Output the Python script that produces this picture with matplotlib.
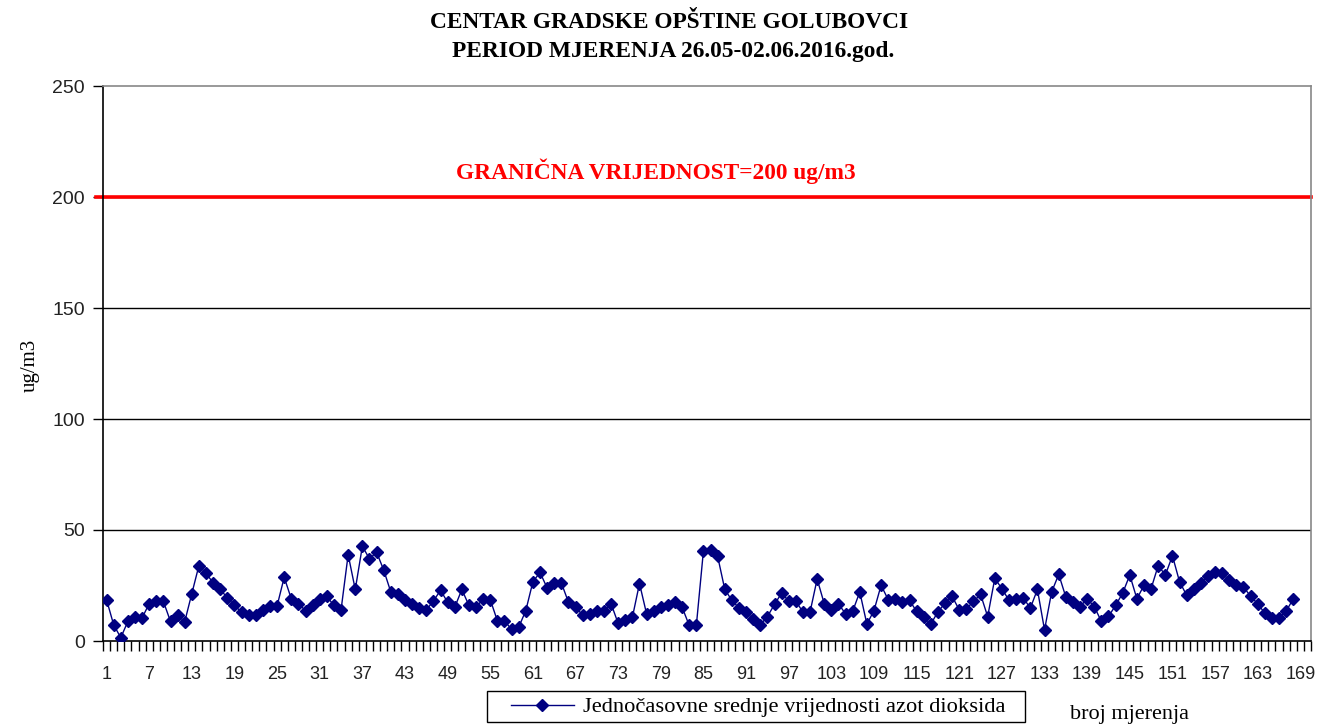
import matplotlib
matplotlib.use("Agg")
import matplotlib.pyplot as plt
from matplotlib.patches import Rectangle
import numpy as np

values = [
    18.6, 7.3, 1.5, 8.8, 11.0, 10.4, 16.8, 18.0, 17.8, 8.8,
    11.7, 8.7, 21.3, 34.0, 30.5, 26.2, 23.2, 19.5, 16.0, 13.0,
    11.7, 11.7, 14.0, 15.8, 15.8, 28.7, 19.0, 16.8, 13.7, 16.0,
    18.7, 20.1, 16.0, 14.0, 38.9, 23.2, 42.7, 37.0, 40.0, 32.0,
    22.1, 21.0, 18.3, 16.8, 14.9, 14.0, 18.0, 22.9, 17.4, 15.2,
    23.2, 16.0, 15.2, 19.0, 18.6, 9.1, 9.1, 5.2, 6.2, 13.7,
    26.7, 30.9, 23.9, 26.2, 26.2, 17.5, 15.2, 11.7, 12.2, 13.6,
    13.7, 16.8, 7.9, 9.4, 10.7, 25.9, 12.2, 13.6, 15.2, 16.0,
    17.5, 15.2, 7.0, 7.0, 40.7, 41.1, 38.1, 23.3, 18.3, 14.9,
    13.0, 9.9, 7.3, 11.0, 16.5, 21.6, 18.0, 18.0, 13.0, 13.0,
    27.9, 16.8, 14.0, 16.8, 12.2, 13.4, 22.1, 7.6, 13.7, 25.1,
    18.6, 19.0, 17.5, 18.3, 13.3, 10.7, 7.6, 13.2, 17.0, 20.1,
    14.0, 14.5, 17.8, 21.0, 11.0, 28.2, 23.6, 18.3, 18.7, 19.5,
    14.8, 23.2, 5.0, 22.1, 30.0, 19.8, 17.5, 15.5, 19.0, 15.5,
    8.8, 11.1, 16.0, 21.6, 29.7, 19.0, 25.1, 23.6, 34.0, 29.7,
    38.4, 26.7, 20.6, 23.2, 26.2, 29.3, 30.9, 30.5, 27.4, 25.1,
    24.4, 20.1, 16.8, 12.5, 10.4, 10.4, 13.4, 19.0,
]
n_categories = 170
x_labels = list(range(1, 170, 6))
y_ticks = [0, 50, 100, 150, 200, 250]
limit_value = 200

title_lines = ["CENTAR GRADSKE OPŠTINE GOLUBOVCI", "PERIOD MJERENJA 26.05-02.06.2016.god."]
limit_text = "GRANIČNA VRIJEDNOST=200 ug/m3"
series_label = "Jednočasovne srednje vrijednosti azot dioksida"
y_label = "ug/m3"
x_label = "broj mjerenja"

W, H = 1319, 724
fig = plt.figure(figsize=(W / 100, H / 100), dpi=100)
fig.patch.set_facecolor("white")
L, R, T, B = 103, 1311, 86, 641
ax = fig.add_axes([L / W, 1 - B / H, (R - L) / W, (B - T) / H])

x = np.arange(1, len(values) + 1)
ax.set_xlim(0.5, n_categories + 0.5)
ax.set_ylim(0, 250)

for yv in y_ticks[1:-1]:
    ax.axhline(yv, color="black", lw=1.0, zorder=1)

ax.plot([-0.006, 1.0], [limit_value, limit_value], color="#ff0000", lw=2.6,
        transform=ax.get_yaxis_transform(), clip_on=False, zorder=2)

line, = ax.plot(x, values, color="#000080", lw=1.0, marker="D", markersize=5.8,
                markerfacecolor="#000080", markeredgecolor="#000080", zorder=3)

ax.set_yticks(y_ticks)
ax.set_yticklabels([str(v) for v in y_ticks], fontfamily="Liberation Sans", fontsize=14, color="#222222")
ax.tick_params(axis="y", direction="out", length=7, width=1, color="black", pad=6)

ax.set_xticks(x_labels)
ax.set_xticklabels([str(v) for v in x_labels], fontfamily="Liberation Sans", fontsize=13, color="#222222")
ax.tick_params(axis="x", which="major", length=0, pad=18)
ax.set_xticks(np.arange(0.5, n_categories + 1.0, 1.0), minor=True)
ax.tick_params(axis="x", which="minor", direction="out", length=7, width=1, color="black")

for s in ["left", "bottom"]:
    ax.spines[s].set_color("black")
    ax.spines[s].set_linewidth(1.2)
for s in ["top", "right"]:
    ax.spines[s].set_color("#888888")
    ax.spines[s].set_linewidth(1.2)

fig.text(669 / W, 1 - 23 / H, title_lines[0], ha="center", va="center",
         fontfamily="Liberation Serif", fontweight="bold", fontsize=16.8)
fig.text(673 / W, 1 - 51 / H, title_lines[1], ha="center", va="center",
         fontfamily="Liberation Serif", fontweight="bold", fontsize=16.8)

fig.text(656 / W, 1 - 171 / H, limit_text, ha="center", va="center", color="#ff0000",
         fontfamily="Liberation Serif", fontweight="bold", fontsize=16.8)

fig.text(30 / W, 1 - 365 / H, y_label, ha="center", va="center", rotation=90,
         fontfamily="Liberation Serif", fontsize=15)

fig.text(1130 / W, 1 - 714 / H, x_label, ha="center", va="center",
         fontfamily="Liberation Serif", fontsize=16)

fig.patches.append(Rectangle((487 / W, 1 - 722 / H), (1025 - 487) / W, (722 - 691) / H,
                             transform=fig.transFigure, facecolor="white", edgecolor="black",
                             lw=1.0, zorder=1))
leg = fig.legend([line], [series_label], loc="center", bbox_to_anchor=(758 / W, 1 - 707 / H),
                 prop={"family": "Liberation Serif", "size": 16.2}, frameon=False,
                 handlelength=2.8, borderpad=0.2, handletextpad=0.4, borderaxespad=0)
leg.set_zorder(2)

fig.savefig("out.png", dpi=100, facecolor="white")
